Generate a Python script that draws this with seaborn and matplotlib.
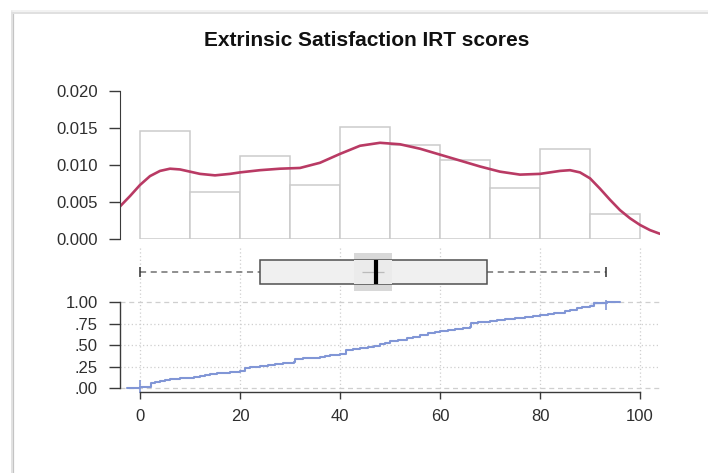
import numpy as np
import matplotlib
matplotlib.use("Agg")
import matplotlib.pyplot as plt
from matplotlib.lines import Line2D
from matplotlib.ticker import FixedLocator, FixedFormatter
import seaborn as sns

# ---- data ---------------------------------------------------------------
bin_edges = [0, 10, 20, 30, 40, 50, 60, 70, 80, 90, 100]
hist_density = [0.0146, 0.00635, 0.0112, 0.0073, 0.0151,
                0.0127, 0.0107, 0.0069, 0.0122, 0.0034]

kde_x = [-4, -2, 0, 2, 4, 6, 8, 10, 12, 15, 18, 20, 24, 28, 32, 36, 40,
         44, 48, 52, 56, 60, 64, 68, 72, 76, 80, 84, 86, 88, 90, 92, 94,
         96, 98, 100, 102, 104]
kde_y = [0.0044, 0.0058, 0.0073, 0.0085, 0.0092, 0.0095, 0.0094, 0.0091,
         0.0088, 0.0086, 0.0088, 0.0090, 0.0093, 0.0095, 0.0096, 0.0103,
         0.0115, 0.0126, 0.0130, 0.0128, 0.0122, 0.0114, 0.0106, 0.0098,
         0.0091, 0.0087, 0.0088, 0.0092, 0.0093, 0.0090, 0.0082, 0.0068,
         0.0053, 0.0039, 0.0028, 0.0019, 0.0012, 0.0007]

ecdf_x = [-2.7, 0, 2.1, 3, 4, 5, 6, 7, 8, 9, 10.7, 12, 13, 14, 15.3, 16.5,
          18, 19, 20, 21, 22, 23.5, 24, 25.5, 27, 28.5, 29.5, 30.7, 31, 32.5,
          34, 35, 36, 37, 38, 39, 40, 41.2, 42.5, 44, 45.5, 46.7, 48, 49, 50,
          51.5, 53.3, 54.5, 56, 57.5, 59, 60, 61.5, 63, 64.5, 66, 66.2, 67.5,
          69.3, 70, 71.3, 73, 75, 77, 78.5, 80, 81.5, 82.7, 84, 85, 86, 87.3,
          88.3, 89, 90, 90.7, 93.3, 96]
ecdf_y = [0, 0.015, 0.06, 0.075, 0.085, 0.093, 0.10, 0.107, 0.113, 0.12,
          0.13, 0.14, 0.15, 0.158, 0.17, 0.175, 0.185, 0.19, 0.20, 0.23, 0.24,
          0.25, 0.26, 0.265, 0.28, 0.29, 0.295, 0.30, 0.34, 0.345, 0.35, 0.355,
          0.36, 0.37, 0.38, 0.39, 0.40, 0.44, 0.45, 0.465, 0.48, 0.49, 0.51,
          0.53, 0.545, 0.565, 0.587, 0.60, 0.62, 0.64, 0.655, 0.669, 0.68,
          0.69, 0.70, 0.716, 0.755, 0.765, 0.774, 0.785, 0.794, 0.805, 0.82,
          0.83, 0.84, 0.852, 0.86, 0.87, 0.88, 0.895, 0.91, 0.93, 0.94, 0.95,
          0.96, 0.995, 1.0, 1.0]

box_min, box_q1, box_median, box_q3, box_max = 0.0, 24.0, 47.1, 69.3, 93.1
notch_lo, notch_hi = 42.8, 50.4
score_mean = 46.5

x_ticks = [0, 20, 40, 60, 80, 100]
dens_ticks = [0.000, 0.005, 0.010, 0.015, 0.020]
dens_labels = ["0.000", "0.005", "0.010", "0.015", "0.020"]
cdf_ticks = [0, 0.25, 0.5, 0.75, 1.0]
cdf_labels = [".00", ".25", ".50", ".75", "1.00"]
title = "Extrinsic Satisfaction IRT scores"

# ---- style --------------------------------------------------------------
sns.set_style("white")
plt.rcParams["font.family"] = ["Liberation Sans", "DejaVu Sans"]
TICK_COLOR = "#2e2e2e"
SPINE_COLOR = "#3a3a3a"
GRID_COLOR = "#cfcfcf"
KDE_COLOR = "#b93a64"
ECDF_COLOR = "#8196d6"
FS = 12

W, H = 708, 473
fig = plt.figure(figsize=(W / 100, H / 100), dpi=100)
fig.patch.set_facecolor("white")


def axes_px(x0, y0, x1, y1):
    return fig.add_axes([x0 / W, 1 - y1 / H, (x1 - x0) / W, (y1 - y0) / H])


ax_h = axes_px(120, 91, 660, 239)
ax_b = axes_px(120, 246, 660, 298)
ax_e = axes_px(120, 300, 660, 392)
XLIM = (-4, 104)
for ax in (ax_h, ax_b, ax_e):
    ax.set_xlim(*XLIM)
    ax.set_facecolor("none")
    for s in ax.spines.values():
        s.set_visible(False)

# ---- histogram + density --------------------------------------------------
centers = [(a + b) / 2 for a, b in zip(bin_edges[:-1], bin_edges[1:])]
sns.histplot(x=centers, weights=hist_density, bins=bin_edges, stat="count",
             ax=ax_h, facecolor="white", edgecolor="#cbcbcb", linewidth=1.1,
             alpha=1)
sns.lineplot(x=kde_x, y=kde_y, ax=ax_h, color=KDE_COLOR, linewidth=1.9,
             estimator=None, sort=False)
ax_h.set_ylim(0, 0.020)
ax_h.set_xticks([])
ax_h.yaxis.set_major_locator(FixedLocator(dens_ticks))
ax_h.yaxis.set_major_formatter(FixedFormatter(dens_labels))
ax_h.spines["left"].set_visible(True)
ax_h.spines["left"].set_color(SPINE_COLOR)
ax_h.spines["left"].set_bounds(0, 0.020)
ax_h.tick_params(axis="y", direction="out", length=8, width=1,
                 color=SPINE_COLOR, labelcolor=TICK_COLOR, labelsize=FS,
                 pad=8, left=True)
ax_h.set_xlabel("")
ax_h.set_ylabel("")

# ---- box panel ----------------------------------------------------------
ax_b.set_ylim(0, 1)
ax_b.set_yticks([])
ax_b.xaxis.set_major_locator(FixedLocator(x_ticks))
ax_b.tick_params(axis="x", length=0, labelbottom=False)
ax_b.grid(axis="x", color=GRID_COLOR, linestyle=(0, (1, 2)), linewidth=0.9)
ax_b.set_axisbelow(True)
yc = 0.5
# notch band behind the box
ax_b.barh(yc, notch_hi - notch_lo, left=notch_lo, height=0.72,
          color="#d8d8d8", edgecolor="none", zorder=2)
ax_b.barh(yc, box_q3 - box_q1, left=box_q1, height=0.48,
          color="#f0f0f0", edgecolor="#505050", linewidth=1.1, zorder=3)
# notch band over the box interior, softly
ax_b.barh(yc, notch_hi - notch_lo, left=notch_lo, height=0.46,
          color="#ebebeb", edgecolor="none", zorder=3.5)
ax_b.hlines(yc, box_min, box_q1, color="#707070", linestyle=(0, (4, 3)),
            linewidth=1.1, zorder=2)
ax_b.hlines(yc, box_q3, box_max, color="#707070", linestyle=(0, (4, 3)),
            linewidth=1.1, zorder=2)
ax_b.vlines([box_min, box_max], yc - 0.1, yc + 0.1, color="#303030",
            linewidth=1.1, zorder=3)
ax_b.hlines(yc, score_mean - 2.2, score_mean + 2.2, color="#bbbbbb",
            linewidth=0.9, zorder=4)
ax_b.vlines(box_median, yc - 0.24, yc + 0.24, color="black", linewidth=3,
            zorder=5)

# ---- ECDF panel ---------------------------------------------------------
ax_e.set_ylim(-4 / 85.7, 1 + 2.3 / 85.7)
for v in cdf_ticks:
    ls = (0, (4, 3)) if v in (0, 1.0) else (0, (1, 2))
    ax_e.axhline(v, color=GRID_COLOR, linestyle=ls, linewidth=0.9, zorder=0)
for v in x_ticks:
    ax_e.axvline(v, color=GRID_COLOR, linestyle=(0, (1, 2)), linewidth=0.9,
                 zorder=0)
ax_e.fill_between([90.0, 93.3], [0.975, 0.985], [1.0, 1.0],
                  color=ECDF_COLOR, alpha=0.25, linewidth=0)
sns.lineplot(x=ecdf_x, y=ecdf_y, ax=ax_e, color=ECDF_COLOR, linewidth=1.5,
             estimator=None, sort=False, drawstyle="steps-post")
ax_e.plot([0, box_max], [0, 1.0], linestyle="none", marker="|",
          markersize=11, markeredgewidth=1.2, color=ECDF_COLOR)
ax_e.yaxis.set_major_locator(FixedLocator(cdf_ticks))
ax_e.yaxis.set_major_formatter(FixedFormatter(cdf_labels))
ax_e.xaxis.set_major_locator(FixedLocator(x_ticks))
ax_e.xaxis.set_major_formatter(FixedFormatter([str(t) for t in x_ticks]))
ax_e.spines["left"].set_visible(True)
ax_e.spines["left"].set_bounds(0, 1)
ax_e.spines["bottom"].set_visible(True)
ax_e.spines["bottom"].set_bounds(0, 100)
for s in ("left", "bottom"):
    ax_e.spines[s].set_color(SPINE_COLOR)
    ax_e.spines[s].set_linewidth(1)
ax_e.tick_params(axis="y", direction="out", length=8, width=1,
                 color=SPINE_COLOR, labelcolor=TICK_COLOR, labelsize=FS,
                 pad=8, left=True)
ax_e.tick_params(axis="x", direction="out", length=5, width=1,
                 color=SPINE_COLOR, labelcolor=TICK_COLOR, labelsize=FS,
                 pad=7, bottom=True)
ax_e.set_xlabel("")
ax_e.set_ylabel("")

# ---- title --------------------------------------------------------------
fig.text(366.5 / W, 1 - 40 / H, title, ha="center", va="center",
         fontsize=15, fontweight="bold", color="#111111")

# ---- card edge with soft shadow -------------------------------------------
for off, col, lw in [(0, "#c4c4c4", 1.6), (1.5, "#e2e2e2", 1.4)]:
    fig.add_artist(Line2D([(13 - off) / W, (13 - off) / W],
                          [0, 1 - (13 - off) / H], color=col, linewidth=lw,
                          transform=fig.transFigure))
for off, col, lw in [(0, "#e0e0e0", 1.4), (1.5, "#f0f0f0", 1.2)]:
    fig.add_artist(Line2D([(13 - off) / W, 1],
                          [1 - (13 - off) / H, 1 - (13 - off) / H], color=col,
                          linewidth=lw, transform=fig.transFigure))

fig.savefig("out.png", dpi=100, facecolor="white")
